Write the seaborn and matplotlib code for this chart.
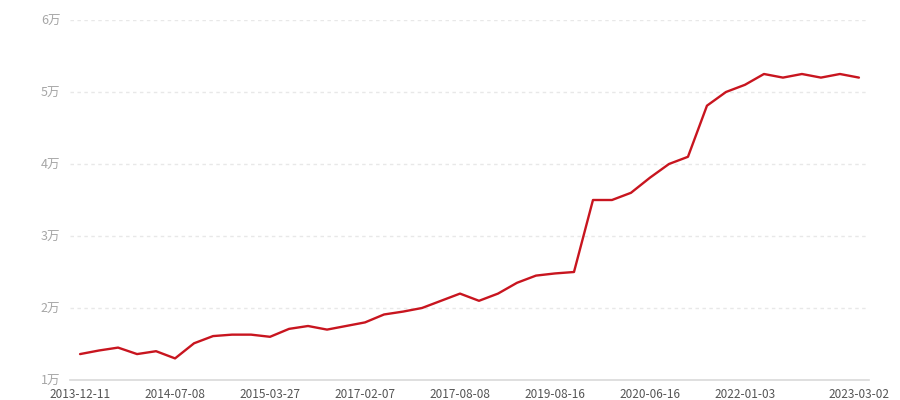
import numpy as np
import pandas as pd
import matplotlib.pyplot as plt
import seaborn as sns

# values, in yuan (one point per record)
prices = [13600, 14100, 14500, 13600, 14000, 13000, 15100, 16100, 16300, 16300,
          16000, 17100, 17500, 17000, 17500, 18000, 19100, 19500, 20000, 21000,
          22000, 21000, 22000, 23500, 24500, 24800, 25000, 35000, 35000, 36000,
          38100, 40000, 41000, 48100, 50000, 51000, 52500, 52000, 52500, 52000,
          52500, 52000]
label_pos = [0, 5, 10, 15, 20, 25, 30, 35, 41]
tick_labels = ['2013-12-11', '2014-07-08', '2015-03-27', '2017-02-07', '2017-08-08',
               '2019-08-16', '2020-06-16', '2022-01-03', '2023-03-02']
y_ticks = [10000, 20000, 30000, 40000, 50000, 60000]

sns.set_style('white')
plt.rcParams['font.family'] = ['Noto Sans CJK SC', 'DejaVu Sans']

df = pd.DataFrame({'idx': np.arange(len(prices)), 'price': prices})

fig = plt.figure(figsize=(9, 4), dpi=100)
ax = fig.add_axes([70 / 900, 20 / 400, 799 / 900, 360 / 400])
sns.lineplot(data=df, x='idx', y='price', ax=ax, color='#c8151f', linewidth=1.7)

ax.set_ylim(10000, 60000)
ax.set_xlim(-0.53, len(prices) - 1 + 0.53)
ax.set_yticks(y_ticks)
ax.set_yticklabels([f'{v // 10000}万' for v in y_ticks])
ax.set_xticks(label_pos)
ax.set_xticklabels(tick_labels)
ax.set_xlabel('')
ax.set_ylabel('')

for y in y_ticks[1:]:
    ax.axhline(y, color='#e8e8e8', linewidth=1, linestyle=(0, (2.5, 2.5)), zorder=0)

for s in ['top', 'right', 'left']:
    ax.spines[s].set_visible(False)
ax.spines['bottom'].set_color('#d9d9d9')
ax.spines['bottom'].set_linewidth(1.2)

ax.tick_params(axis='y', length=0, pad=7, labelsize=9, labelcolor='#a6a6a6')
ax.tick_params(axis='x', length=4, width=1, color='#d9d9d9', pad=2,
               labelsize=8.5, labelcolor='#555555')

fig.savefig('out.png', dpi=100)
plt.close()
